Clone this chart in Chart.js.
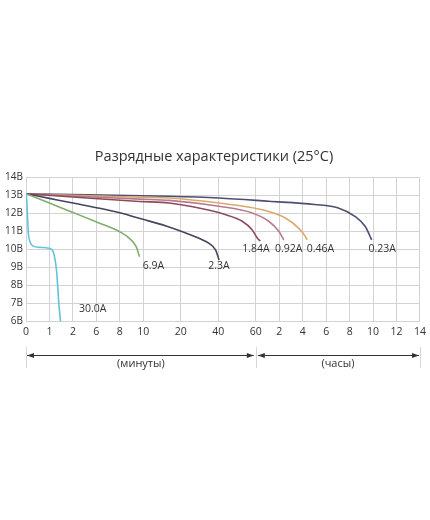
<!DOCTYPE html>
<html>
<head>
<meta charset="utf-8">
<script src="https://cdn.jsdelivr.net/npm/chart.js@4/dist/chart.umd.min.js"></script>
<style>
  html, body { margin: 0; padding: 0; background: #ffffff; }
  canvas { display: block; }
</style>
</head>
<body>
<canvas id="c" width="430" height="520"></canvas>
<script>
// ---- Axis ticks (x in minutes; hours shown after 60 min) ----
const tickMinutes = [0, 1, 2, 6, 8, 10, 20, 40, 60, 120, 240, 360, 480, 600, 720, 840];
const tickLabels  = ['0','1','2','6','8','10','20','40','60','2','4','6','8','10','12','14'];
const tickGaps    = [1, 1, 1, 1, 1, 1.6, 1.6, 1.6, 1, 1, 1, 1, 1, 1, 1];
const voltTicks   = [6, 7, 8, 9, 10, 11, 12, 13, 14];

// ---- Series: time (minutes) and voltage (V) ----
const t300 = [0, 0.04, 0.07, 0.1, 0.17, 0.31, 0.59, 0.95, 1.12, 1.2, 1.3, 1.4, 1.47];
const v300 = [13.1, 12.57, 11.64, 10.9, 10.43, 10.19, 10.12, 10.07, 9.97, 9.69, 8.86, 7.01, 6.0];

const t69 = [0, 1, 2, 6.28, 7.98, 8.82, 9.4, 9.68];
const v69 = [13.1, 12.58, 12.06, 11.46, 10.99, 10.62, 10.16, 9.6];

const t23 = [0, 1, 2, 6.28, 7.98, 9.96, 16.06, 20.9, 29.75, 35.1, 38.6, 40.4];
const v23 = [13.1, 12.84, 12.58, 12.29, 12.04, 11.68, 11.31, 10.99, 10.62, 10.34, 9.97, 9.42];

const t184 = [0, 1.99, 9.68, 16.9, 31.5, 44, 52.75, 58, 63.6, 71.4];
const v184 = [13.1, 12.92, 12.67, 12.58, 12.26, 11.93, 11.57, 11.1, 10.64, 10.47];

const t092 = [0, 1.99, 9.68, 16.9, 40.4, 58, 93, 118.8, 142.8];
const v092 = [13.1, 12.97, 12.8, 12.73, 12.4, 12.03, 11.57, 11.01, 10.54];

const t046 = [0, 1.99, 9.68, 16.9, 40.4, 76.2, 151.2, 218.4, 253.2, 262.8];
const v046 = [13.1, 13.01, 12.9, 12.86, 12.58, 12.21, 11.75, 11.19, 10.73, 10.53];

const t023 = [0, 16.9, 40.4, 93, 300, 422, 509, 560, 593];
const v023 = [13.1, 12.96, 12.86, 12.68, 12.5, 12.31, 11.83, 11.28, 10.53];

// ---- Curve labels (text, anchor time in minutes, anchor voltage) ----
const labelNames = ['30.0A', '6.9A', '2.3A', '1.84A', '0.92A', '0.46A', '0.23A'];
const labelT     = [5.36, 12.7, 40.4, 60, 168, 331, 647];
const labelV     = [6.69, 9.08, 9.08, 10.03, 10.03, 10.03, 10.03];

const titleText = 'Разрядные характеристики (25°C)';
const minutesText = '(минуты)';
const hoursText = '(часы)';

// ---- Piecewise time scale ----
const cum = [0];
tickGaps.forEach((g, i) => cum.push(cum[i] + g));
const totalPos = cum[cum.length - 1];

function minutesToDecimal(m) {
  if (m <= tickMinutes[0]) return 0;
  for (let i = 0; i < tickMinutes.length - 1; i++) {
    const a = tickMinutes[i], b = tickMinutes[i + 1];
    if (m <= b) {
      return (cum[i] + (m - a) / (b - a) * tickGaps[i]) / totalPos;
    }
  }
  return 1;
}
function decimalToMinutes(d) {
  const p = d * totalPos;
  for (let i = 0; i < tickGaps.length; i++) {
    if (p <= cum[i + 1]) {
      return tickMinutes[i] + (p - cum[i]) / tickGaps[i] * (tickMinutes[i + 1] - tickMinutes[i]);
    }
  }
  return tickMinutes[tickMinutes.length - 1];
}

class PiecewiseTimeScale extends Chart.LinearScale {
  getPixelForValue(value) { return this.getPixelForDecimal(minutesToDecimal(value)); }
  getValueForPixel(pixel) { return decimalToMinutes(this.getDecimalForPixel(pixel)); }
}
PiecewiseTimeScale.id = 'piecewiseTime';
PiecewiseTimeScale.defaults = Chart.LinearScale.defaults;
Chart.register(PiecewiseTimeScale);

const pts = (t, v) => t.map((x, i) => ({ x: x, y: v[i] }));

const seriesDefs = [
  { name: '30.0A', t: t300, v: v300, color: '#62c3da' },
  { name: '6.9A',  t: t69,  v: v69,  color: '#7fae6c' },
  { name: '2.3A',  t: t23,  v: v23,  color: '#45455f' },
  { name: '1.84A', t: t184, v: v184, color: '#8a4b5e' },
  { name: '0.92A', t: t092, v: v092, color: '#b97a8c' },
  { name: '0.46A', t: t046, v: v046, color: '#dba86c' },
  { name: '0.23A', t: t023, v: v023, color: '#4c5070' }
];

const FONT = '"Open Sans", "DejaVu Sans", sans-serif';
const TXT = '#333333';
const GRID = '#d3d3d3';

const annotPlugin = {
  id: 'annot',
  afterDraw(chart) {
    const ctx = chart.ctx;
    const xs = chart.scales.x, ys = chart.scales.y;
    ctx.save();
    // title
    ctx.fillStyle = TXT;
    ctx.font = '14.5px ' + FONT;
    ctx.textAlign = 'center';
    ctx.textBaseline = 'middle';
    ctx.fillText(titleText, 214, 157);
    // curve labels
    ctx.font = '10.5px ' + FONT;
    labelNames.forEach((n, i) => {
      ctx.fillText(n, xs.getPixelForValue(labelT[i]), ys.getPixelForValue(labelV[i]));
    });
    // arrows
    const x0 = xs.getPixelForValue(tickMinutes[0]);
    const xm = xs.getPixelForValue(60);
    const x1 = xs.getPixelForValue(tickMinutes[tickMinutes.length - 1]);
    const ay = 355.5;
    ctx.strokeStyle = '#d6d6d6';
    ctx.lineWidth = 1;
    [x0, xm, x1].forEach(x => {
      ctx.beginPath();
      ctx.moveTo(Math.round(x) + 0.5, 347);
      ctx.lineTo(Math.round(x) + 0.5, 368);
      ctx.stroke();
    });
    ctx.strokeStyle = '#333333';
    ctx.fillStyle = '#333333';
    function arrow(a, b) {
      ctx.beginPath();
      ctx.moveTo(a, ay);
      ctx.lineTo(b, ay);
      ctx.stroke();
      const head = (x, dir) => {
        ctx.beginPath();
        ctx.moveTo(x, ay);
        ctx.lineTo(x + dir * 7, ay - 2.5);
        ctx.lineTo(x + dir * 7, ay + 2.5);
        ctx.closePath();
        ctx.fill();
      };
      head(a, 1);
      head(b, -1);
    }
    arrow(x0 + 1, xm - 2);
    arrow(xm + 2, x1 - 1);
    ctx.fillStyle = TXT;
    ctx.font = '11px ' + FONT;
    ctx.fillText(minutesText, (x0 + xm) / 2, 363.5);
    ctx.fillText(hoursText, (xm + x1) / 2, 363.5);
    ctx.restore();
  }
};

new Chart(document.getElementById('c'), {
  type: 'line',
  data: {
    datasets: seriesDefs.map(s => ({
      label: s.name,
      data: pts(s.t, s.v),
      borderColor: s.color,
      backgroundColor: s.color,
      borderWidth: 1.6,
      pointRadius: 0,
      fill: false,
      cubicInterpolationMode: 'monotone'
    }))
  },
  options: {
    responsive: false,
    animation: false,
    devicePixelRatio: 1,
    layout: { padding: { top: 177.5, left: 0, right: 8, bottom: 0 } },
    plugins: { legend: { display: false }, title: { display: false }, tooltip: { enabled: false } },
    scales: {
      x: {
        type: 'piecewiseTime',
        min: tickMinutes[0],
        max: tickMinutes[tickMinutes.length - 1],
        afterBuildTicks: s => { s.ticks = tickMinutes.map(v => ({ value: v })); },
        afterFit: s => { s.height = 520 - 321.5; },
        grid: { color: GRID, drawTicks: false },
        border: { color: GRID },
        ticks: {
          autoSkip: false, maxRotation: 0, padding: 4,
          color: TXT, font: { family: FONT, size: 10.5 },
          callback: (v, i) => tickLabels[i]
        }
      },
      y: {
        min: voltTicks[0],
        max: voltTicks[voltTicks.length - 1],
        afterBuildTicks: s => { s.ticks = voltTicks.map(v => ({ value: v })); },
        afterFit: s => { s.width = 26; },
        grid: { color: GRID, drawTicks: false },
        border: { color: GRID },
        ticks: {
          padding: 3, color: TXT, font: { family: FONT, size: 10 },
          callback: v => v + 'В'
        }
      }
    }
  },
  plugins: [annotPlugin]
});
</script>
</body>
</html>
